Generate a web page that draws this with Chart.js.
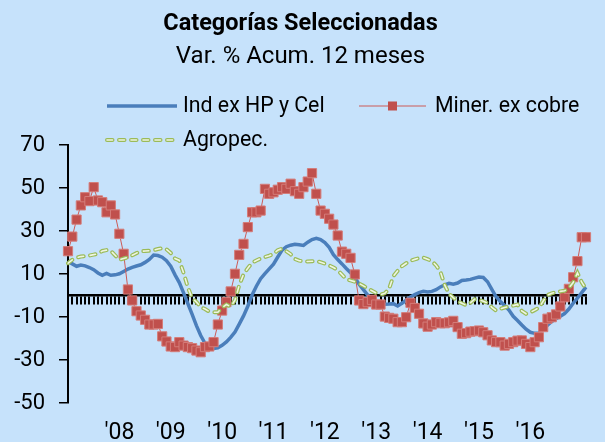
<!DOCTYPE html>
<html>
<head>
<meta charset="utf-8">
<script src="https://cdn.jsdelivr.net/npm/chart.js@4/dist/chart.umd.min.js"></script>
<style>
  html, body { margin: 0; padding: 0; background: #c6e2fb; overflow: hidden; }
  #wrap { width: 605px; height: 442px; position: relative; }
</style>
</head>
<body>
<div id="wrap"><canvas id="chart" width="605" height="442"></canvas></div>
<script>
// meses desde ene-2007 hasta feb-2017
const years = [2007, 2008, 2009, 2010, 2011, 2012, 2013, 2014, 2015, 2016, 2017];
const months = ['01', '02', '03', '04', '05', '06', '07', '08', '09', '10', '11', '12'];
const yearLabels = ["'08", "'09", "'10", "'11", "'12", "'13", "'14", "'15", "'16"];

const industrial = [
  15.8, 14.7, 13.6, 14.2, 13.8, 13, 12, 10.5, 9.4, 10.3,
  9.4, 9.6, 10.1, 11.2, 12.3, 13.1, 13.7, 14.3, 15.4, 16.8,
  18.8, 18.6, 17.8, 16.2, 13.6, 9.6, 6, 1.2, -3.8, -8.8,
  -14, -18.6, -22.2, -24.1, -24.6, -24.3, -23.2, -21.6, -19.5, -17,
  -13.3, -9.5, -5, 0.2, 4.3, 7.8, 10.2, 12.4, 14.6, 17.9,
  21.1, 22.7, 23.4, 23.8, 23.6, 23.3, 24.8, 26, 26.6, 26,
  24.6, 22.4, 19, 16.7, 14.7, 12.6, 10.6, 8.2, 5.2, 2.7,
  0.2, -1.9, -3, -3.8, -4.1, -4, -3.8, -4.9, -3.6, -2.2,
  -0.7, 0.4, 1.3, 2, 1.6, 1.9, 2.7, 4, 5, 5.7,
  5.3, 5.8, 7, 7.2, 7.5, 8.1, 8.6, 8.4, 6.4, 2.9,
  -0.6, -2.8, -4.7, -6.8, -9.7, -11.6, -13.7, -15.7, -17.1, -17.6,
  -17.5, -15.8, -13.8, -12.1, -10.8, -9.6, -8.4, -6.3, -3.6, -1.2,
  1.3, 3.9
];

const mineria = [
  20.6, 27.4, 35.3, 41.9, 45.7, 43.9, 50.4, 44.2, 43.4, 38.7,
  41.9, 37.7, 28.7, 19.4, 2.8, -2.3, -7.3, -9.3, -11.3, -13.5,
  -13.5, -13.2, -19, -21.4, -23.7, -24, -21.7, -23.3, -24, -24.5,
  -25.6, -26.4, -24, -23.7, -21.7, -13.5, -7, -3.1, 1.9, 10.1,
  18.9, 24, 31.8, 38.7, 38.7, 39.5, 49.6, 47.3, 48, 49.2,
  50.4, 49.6, 52, 48.5, 47.3, 50.4, 53, 56.9, 47.3, 39.5,
  38, 35.7, 33, 27.9, 20.4, 19.4, 17.5, 9.8, -2.3, -4,
  -3.1, -2, -4.2, -4.2, -9.8, -10.4, -10.8, -12.4, -12.4, -10.1,
  -3.4, -5.8, -8.5, -13, -14.5, -13.5, -12.4, -12.9, -12.9, -12.5,
  -11.8, -14.7, -17.8, -17.5, -16.8, -16.6, -16.3, -17.1, -18.5, -20.9,
  -21.7, -21.7, -23.3, -22.5, -21.7, -21, -20.9, -22.5, -24, -21.7,
  -19.4, -14.7, -10.8, -10.1, -8.8, -5.1, -0.8, 3.1, 8.5, 16,
  27.1, 27.1
];

const agro = [
  15, 16.6, 17.6, 18.1, 18.3, 18.6, 19, 19.4, 20.7, 21.1,
  20.8, 18.7, 16.6, 17.2, 17.8, 18.7, 19.7, 20.6, 20.7, 20.8,
  21.1, 21.6, 22, 21.5, 19.8, 17.2, 16.3, 10.5, 3.8, -1.2,
  -3, -5.4, -6.3, -7.5, -7.8, -7.8, -5.6, -4.2, -5.2, -2.2,
  4.8, 9.8, 12.7, 15.2, 16.3, 17.2, 17.9, 18.5, 19.3, 21.1,
  21.8, 20.6, 19.2, 17, 16.2, 15.9, 15.8, 15.9, 16, 15.5,
  14.8, 14, 13, 11.8, 9.7, 7.6, 7, 6.4, 5.6, 4.5,
  3.3, 2.2, 1.1, 0.4, 1, 3.1, 9, 11.5, 13.6, 15,
  16.2, 16.8, 17.4, 17.6, 16.9, 16, 14, 11, 4.8, 0.8,
  -1, -2.7, -3.6, -4.5, -3.4, -1.7, -2, -2.7, -3.5, -5.5,
  -7, -6.2, -5.6, -5.1, -4.7, -4.2, -7.2, -8.5, -7.8, -6.8,
  -5.7, -2.6, 0.2, 1, 1.6, 1.9, 2.2, 3.5, 6, 10.5,
  6.2, 3.1
];

const categories = [];
years.forEach(y => months.forEach(m => categories.push(y + '-' + m)));
categories.length = industrial.length;

const BLUE = '#4a7ebb';
const RED = '#c0504d';
const GREEN = '#9bbb59';
const GREEN_IN = '#eef5e2';
const FONT = 'Roboto';

// leyenda dibujada a mano (dos columnas arriba, una abajo)
const manualLegend = {
  id: 'manualLegend',
  afterDraw(chart) {
    const ctx = chart.ctx;
    const ds = chart.data.datasets;
    const items = [
      { d: ds[0], x: 107, w: 70, y: 106, tx: 183 },
      { d: ds[1], x: 359, w: 67, y: 106, tx: 435 },
      { d: ds[2], x: 107, w: 70, y: 140, tx: 183 }
    ];
    ctx.save();
    items.forEach(it => {
      ctx.beginPath();
      ctx.moveTo(it.x, it.y);
      ctx.lineTo(it.x + it.w, it.y);
      ctx.strokeStyle = it.d.borderColor;
      ctx.lineWidth = it.d.borderWidth;
      ctx.lineCap = it.d.borderCapStyle || 'butt';
      ctx.setLineDash(it.d.borderDash || []);
      ctx.stroke();
      if (it.d === ds[2]) {
        ctx.strokeStyle = GREEN_IN;
        ctx.lineWidth = ds[3].borderWidth;
        ctx.stroke();
      }
      ctx.setLineDash([]);
      if (it.d.pointRadius > 0) {
        const s = 9;
        ctx.fillStyle = it.d.pointBackgroundColor;
        ctx.fillRect(it.x + it.w / 2 - s / 2, it.y - s / 2, s, s);
      }
      ctx.fillStyle = '#000';
      ctx.font = '21.3px ' + FONT;
      ctx.textBaseline = 'middle';
      ctx.fillText(it.d.label, it.tx, it.y + 1);
    });
    ctx.restore();
  }
};

new Chart(document.getElementById('chart'), {
  type: 'line',
  data: {
    labels: categories,
    datasets: [
      {
        label: 'Ind ex HP y Cel',
        data: industrial,
        borderColor: BLUE,
        borderWidth: 3.5,
        pointRadius: 0,
        tension: 0,
        order: 3
      },
      {
        label: 'Miner. ex cobre',
        data: mineria,
        borderColor: '#cc5a57',
        borderWidth: 1,
        pointStyle: 'rect',
        pointRadius: 6.5,
        pointBackgroundColor: RED,
        pointBorderColor: '#d47c79',
        pointBorderWidth: 1,
        clip: false,
        order: 2
      },
      {
        label: 'Agropec.',
        data: agro,
        borderColor: GREEN,
        borderWidth: 4,
        borderDash: [5.5, 6.5],
        borderCapStyle: 'round',
        pointRadius: 0,
        order: 1
      },
      {
        label: 'Agropec. (relleno)',
        data: agro,
        borderColor: GREEN_IN,
        borderWidth: 1.6,
        borderDash: [5.5, 6.5],
        borderCapStyle: 'round',
        pointRadius: 0,
        order: 0
      }
    ]
  },
  options: {
    responsive: false,
    animation: false,
    devicePixelRatio: 1,
    layout: { padding: { left: 0, right: 4, top: 0, bottom: 0 } },
    plugins: {
      legend: { display: false },
      tooltip: { enabled: false },
      title: {
        display: true,
        text: 'Categorías Seleccionadas',
        color: '#000',
        font: { family: FONT, size: 23.5, weight: 'bold', lineHeight: 1.2 },
        padding: { top: 9.7, bottom: 0 }
      },
      subtitle: {
        display: true,
        text: 'Var. % Acum. 12 meses',
        color: '#000',
        font: { family: FONT, size: 24, lineHeight: 1.2 },
        padding: { top: 4.3, bottom: 74 }
      }
    },
    scales: {
      x: {
        type: 'category',
        position: { y: 0 },
        offset: false,
        ticks: { display: false },
        grid: { drawOnChartArea: false, drawTicks: true, tickLength: 8, color: '#000', lineWidth: 2 },
        border: { color: '#000', width: 2.5 }
      },
      x2: {
        type: 'category',
        axis: 'x',
        position: 'bottom',
        offset: false,
        grid: { display: false, drawTicks: false },
        border: { display: false },
        ticks: {
          autoSkip: false,
          maxRotation: 0,
          minRotation: 0,
          padding: 19,
          color: '#000',
          font: { family: FONT, size: 23, lineHeight: 1 },
          callback: (v, i) => (i % 12 === 0 ? (yearLabels[i / 12 - 1] || '') : '')
        },
        afterFit: s => { s.height = 39; }
      },
      y: {
        min: -50,
        max: 70,
        ticks: { stepSize: 20, padding: 14, color: '#000', font: { family: FONT, size: 22 } },
        grid: { drawOnChartArea: false, drawTicks: true, tickLength: 9, color: '#000', lineWidth: 1.5 },
        border: { color: '#000', width: 2 },
        afterFit: s => { s.width = 68; }
      }
    }
  },
  plugins: [manualLegend]
});
</script>
</body>
</html>
